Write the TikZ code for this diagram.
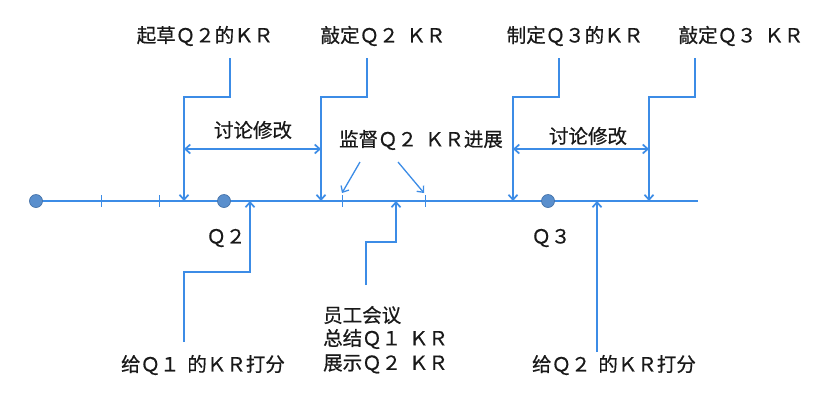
\documentclass[tikz,border=0pt]{standalone}
\usepackage{fontspec}
\setmainfont{Noto Sans CJK SC}[RawFeature=+fwid,FakeBold=0.6]
\usetikzlibrary{arrows.meta}
\definecolor{ln}{RGB}{60,140,230}
\definecolor{dotf}{RGB}{90,143,205}
\definecolor{dotd}{RGB}{70,115,170}
\begin{document}
\begin{tikzpicture}[x=1pt,y=-1pt,
  lbl/.style={font=\fontsize{19.5}{24}\selectfont, inner sep=0pt, text=black!90},
  conn/.style={draw=ln, line width=1.7pt},
  tip/.style={-{Straight Barb[length=5pt,width=9pt]}},
  dtip/.style={{Straight Barb[length=5pt,width=9pt]}-{Straight Barb[length=5pt,width=9pt]}},
  dot/.style={circle, fill=dotf, draw=dotd, line width=0.7pt, minimum size=13pt, inner sep=0pt},
  tick/.style={draw=ln, line width=0.9pt}]
\useasboundingbox (0,0) rectangle (830,408);
% timeline
\coordinate (t0) at (36,201);
\coordinate (t1) at (698,201);
\draw[conn] (t0) -- (t1);
\foreach \x/\n in {101/k1,159/k2,342/k3,425/k4}{
  \coordinate (\n) at (\x,201);
  \draw[tick] (\x,195) -- (\x,207);
}
\node[dot] (d1) at (36,201) {};
\node[dot] (d2) at (224,201) {};
\node[dot] (d3) at (548,201) {};
\node[lbl] (q2) at (226,238) {Q2};
\node[lbl] (q3) at (551,238) {Q3};
% top labels
\node[lbl] (a) at (205,36) {起草Q2的KR};
\node[lbl] (b) at (383,36) {敲定Q2\hspace{0.4em}KR};
\node[lbl] (c) at (575,36) {制定Q3的KR};
\node[lbl] (d) at (741,36) {敲定Q3\hspace{0.4em}KR};
% top connectors
\coordinate (a0) at (230,58); \coordinate (a1) at (184,201);
\coordinate (b0) at (367,58); \coordinate (b1) at (321,201);
\coordinate (c0) at (559,58); \coordinate (c1) at (513,201);
\coordinate (e0) at (695,58); \coordinate (e1) at (649,201);
\draw[conn,tip] (a0) -- (a0 |- 0,97) -| (a1);
\draw[conn,tip] (b0) -- (b0 |- 0,97) -| (b1);
\draw[conn,tip] (c0) -- (c0 |- 0,97) -| (c1);
\draw[conn,tip] (e0) -- (e0 |- 0,97) -| (e1);
% discussion arrows
\coordinate (m1) at (184,149); \coordinate (m2) at (321,149);
\coordinate (m3) at (513,149); \coordinate (m4) at (649,149);
\draw[conn,dtip] (m1) -- (m2);
\draw[conn,dtip] (m3) -- (m4);
\node[lbl] (x1) at (253,130) {讨论修改};
\node[lbl] (x2) at (588,136) {讨论修改};
% supervise
\node[lbl] (s) at (421,140) {监督Q2\hspace{0.4em}KR进展};
\coordinate (s1) at (360,162); \coordinate (s2) at (398,162);
\draw[conn,tip,line width=1.3pt] (s1) -- (342,193);
\draw[conn,tip,line width=1.3pt] (s2) -- (424,193);
% bottom connectors
\coordinate (g0) at (184,342);
\draw[conn,tip] (g0) -- (184,272) -- (250,272) -- (250,201);
\coordinate (h0) at (366,285);
\draw[conn,tip] (h0) -- (366,242) -- (396,242) -- (396,201);
\coordinate (i0) at (597,352);
\draw[conn,tip] (i0) -- (597,201);
% bottom labels
\node[lbl] (g) at (203,365) {给Q1\hspace{0.4em}的KR打分};
\node[lbl, anchor=west] (h1) at (323,315) {员工会议};
\node[lbl, anchor=west] (h2) at (323,339) {总结Q1\hspace{0.4em}KR};
\node[lbl, anchor=west] (h3) at (323,364) {展示Q2\hspace{0.4em}KR};
\node[lbl] (i) at (614,365) {给Q2\hspace{0.4em}的KR打分};
\end{tikzpicture}
\end{document}
